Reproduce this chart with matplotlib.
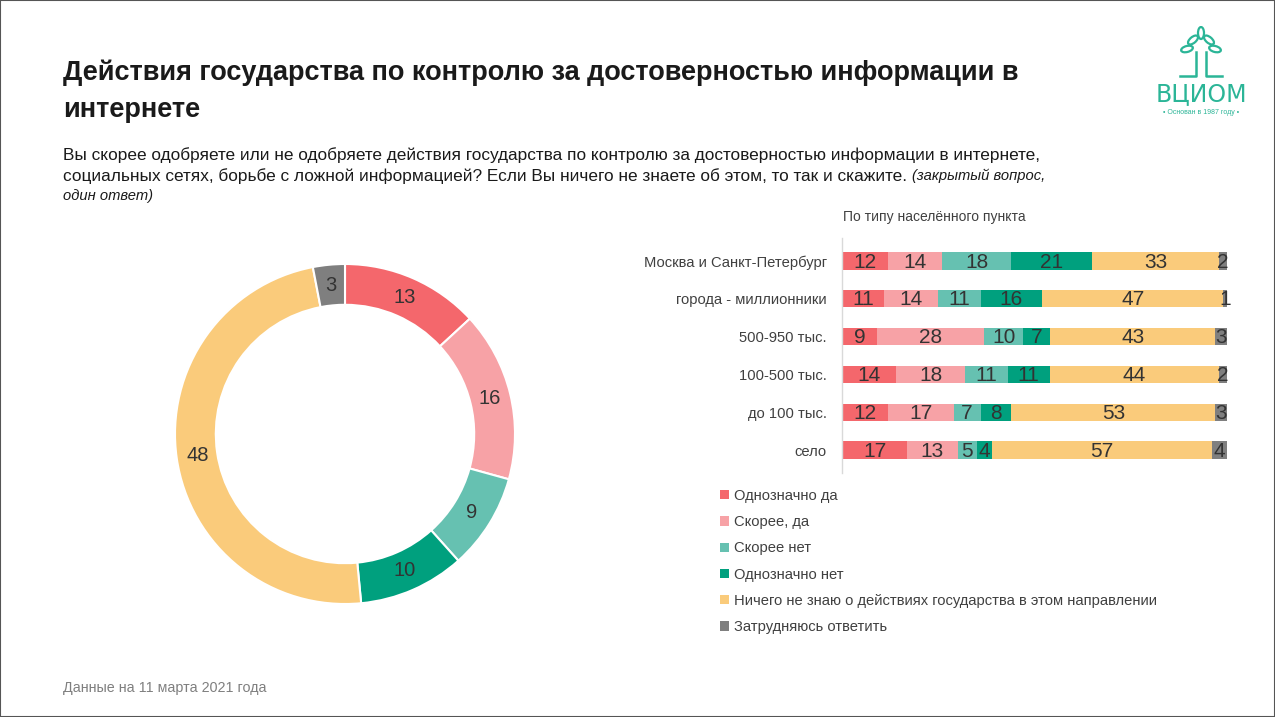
import matplotlib
matplotlib.use("Agg")
import matplotlib.pyplot as plt
from matplotlib.patches import Rectangle, Patch, Ellipse
import numpy as np

plt.rcParams['font.family'] = ['Liberation Sans', 'DejaVu Sans']

# ---------------- data ----------------
answers = ["Однозначно да", "Скорее, да", "Скорее нет", "Однозначно нет",
           "Ничего не знаю о действиях государства в этом направлении",
           "Затрудняюсь ответить"]
colors = ["#F4676C", "#F7A2A6", "#66C1B1", "#00A07E", "#FACB7B", "#7F7F7F"]

total_values = [13, 16, 9, 10, 48, 3]

settlements = ["Москва и Санкт-Петербург", "города - миллионники", "500-950 тыс.",
               "100-500 тыс.", "до 100 тыс.", "село"]
sure_yes = [12, 11, 9, 14, 12, 17]
rather_yes = [14, 14, 28, 18, 17, 13]
rather_no = [18, 11, 10, 11, 7, 5]
sure_no = [21, 16, 7, 11, 8, 4]
know_nothing = [33, 47, 43, 44, 53, 57]
hard_to_say = [2, 1, 3, 2, 3, 4]
series = [sure_yes, rather_yes, rather_no, sure_no, know_nothing, hard_to_say]

W, H = 1275, 717
fig = plt.figure(figsize=(W / 100, H / 100), dpi=100)
fig.patch.set_facecolor("white")

def fx(x):
    return x / W

def fy(y):
    return 1 - y / H

# frame
fig.add_artist(Rectangle((0, 0), 1, 1, transform=fig.transFigure, fill=False,
                         edgecolor="#555555", linewidth=1.5))

# ---------------- texts ----------------
fig.text(fx(63), fy(73), "Действия государства по контролю за достоверностью информации в",
         fontsize=19.5, fontweight="bold", color="#1a1a1a", va="center", ha="left")
fig.text(fx(63), fy(110), "интернете", fontsize=19.5, fontweight="bold", color="#1a1a1a",
         va="center", ha="left")
fig.text(fx(63), fy(155),
         "Вы скорее одобряете или не одобряете действия государства по контролю за достоверностью информации в интернете,",
         fontsize=12.4, color="#1a1a1a", va="center", ha="left")
t = fig.text(fx(63), fy(176),
             "социальных сетях, борьбе с ложной информацией? Если Вы ничего не знаете об этом, то так и скажите.",
             fontsize=12.4, color="#1a1a1a", va="center", ha="left")
fig.canvas.draw()
bb = t.get_window_extent()
fig.text(bb.x1 / W + fx(5), fy(176), "(закрытый вопрос,", fontsize=10.6, style="italic",
         color="#1a1a1a", va="center", ha="left")
fig.text(fx(63), fy(196), "один ответ)", fontsize=10.6, style="italic",
         color="#1a1a1a", va="center", ha="left")

fig.text(fx(843), fy(217), "По типу населённого пункта", fontsize=10, color="#404040",
         va="center", ha="left")
fig.text(fx(63), fy(688), "Данные на 11 марта 2021 года", fontsize=10.3, color="#7f7f7f",
         va="center", ha="left")

# logo (text based)
teal = "#2BB597"
fig.text(fx(1201), fy(94), "ВЦИОМ", fontsize=17, color=teal, ha="center", va="center",
         family="DejaVu Sans")
fig.text(fx(1201), fy(112), "• Основан в 1987 году •", fontsize=5, color=teal,
         ha="center", va="center")
lax = fig.add_axes([fx(1170), fy(82), fx(62), fy(26) - fy(82)])
lax.set_xlim(0, 62); lax.set_ylim(0, 56); lax.axis("off")
lax.plot([26, 26, 10], [30, 6, 6], color=teal, lw=1.8)
lax.plot([36, 36, 52], [30, 6, 6], color=teal, lw=1.8)
for (ex, ey, ang) in [(31, 49, 90), (23, 42, 40), (39, 42, -40), (17, 33, 15), (45, 33, -15)]:
    lax.add_patch(Ellipse((ex, ey), 12, 6, angle=ang, fill=False, edgecolor=teal, lw=1.6))

# ---------------- donut ----------------
cx, cy, r = 345, 434, 170
dax = fig.add_axes([fx(cx - r), fy(cy + r), fx(2 * r), fy(cy - r) - fy(cy + r)])
dax.pie(total_values, colors=colors, startangle=90, counterclock=False,
        radius=1.0, wedgeprops=dict(width=0.24, edgecolor="white", linewidth=1.5))
cum = 0
tot = sum(total_values)
for v in total_values:
    mid = 90 - (cum + v / 2) / tot * 360
    cum += v
    a = np.deg2rad(mid)
    dax.text(0.875 * np.cos(a), 0.875 * np.sin(a), str(v), ha="center", va="center",
             fontsize=14.5, color="#333333")
dax.set_xlim(-1, 1); dax.set_ylim(-1, 1)
dax.set_aspect("equal")

# ---------------- stacked bars ----------------
top_c, bot_c = 261, 450
step = (bot_c - top_c) / 5
bax = fig.add_axes([fx(842), fy(bot_c + step / 2), fx(385),
                    fy(top_c - step / 2) - fy(bot_c + step / 2)])
ypos = np.arange(len(settlements))
left = np.zeros(len(settlements))
for vals, col, lab in zip(series, colors, answers):
    vals = np.array(vals, dtype=float)
    bax.barh(ypos, vals, left=left, color=col, height=0.45, label=lab)
    for yi, (l, v) in enumerate(zip(left, vals)):
        bax.text(l + v / 2, yi + 0.03, str(int(v)), ha="center", va="center",
                 fontsize=15, color="#333333")
    left += vals
bax.set_xlim(0, 100)
bax.set_ylim(len(settlements) - 0.5, -0.5)
bax.set_yticks(ypos)
bax.set_yticklabels(settlements, fontsize=10.6, color="#404040")
bax.tick_params(axis="y", length=0, pad=11)
bax.set_xticks([])
for s in ["top", "right", "bottom"]:
    bax.spines[s].set_visible(False)
bax.spines["left"].set_color("#d9d9d9")
bax.spines["left"].set_bounds(-0.6, 5.6)
bax.spines["left"].set_linewidth(1)

handles = [Patch(facecolor=c, edgecolor="none", label=l) for c, l in zip(colors, answers)]
fig.legend(handles=handles, loc="upper left", bbox_to_anchor=(fx(720), fy(489)),
           frameon=False, fontsize=10.6, handlelength=0.6, handleheight=0.6,
           handletextpad=0.35, labelspacing=0.83, borderaxespad=0, borderpad=0,
           labelcolor="#404040")

fig.savefig("out.png", dpi=100)
